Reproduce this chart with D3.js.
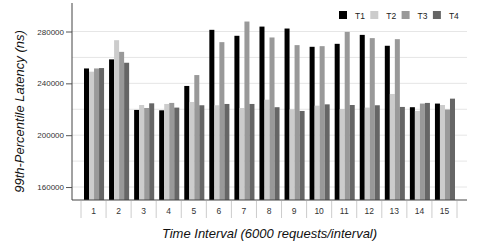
<!DOCTYPE html>
<html>
<head>
<meta charset="utf-8">
<script src="https://cdn.jsdelivr.net/npm/d3@7"></script>
<style>
  body { margin: 0; background: #fff; }
  svg { display: block; font-family: "Liberation Sans", Arial, sans-serif; }
</style>
</head>
<body>
<div id="chart"></div>
<script>
// 99th-percentile latency per interval, four series
const intervals = [1, 2, 3, 4, 5, 6, 7, 8, 9, 10, 11, 12, 13, 14, 15];
const seriesNames = ['T1', 'T2', 'T3', 'T4'];
const t1 = [251500, 258500, 219500, 219200, 238000, 281300, 276700, 283800, 282300, 268200, 270500, 277400, 269000, 221600, 224400];
const t2 = [249000, 273300, 223300, 224100, 225600, 223100, 221000, 227400, 220000, 222800, 220200, 221300, 231800, 218700, 223300];
const t3 = [251500, 264300, 221000, 224900, 246400, 271800, 287700, 275400, 269500, 268700, 279700, 274900, 274100, 224400, 219800];
const t4 = [251800, 255900, 224600, 221300, 223100, 224100, 224100, 221600, 218700, 223800, 223300, 223100, 221800, 224900, 228200];
const yTicks = [160000, 200000, 240000, 280000];
const yGrid = [160000, 180000, 200000, 220000, 240000, 260000, 280000];
const colors = ['#000000', '#cccccc', '#999999', '#666666'];

const width = 485, height = 242;
const plot = { left: 72, right: 467, top: 3, bottom: 200 };

const svg = d3.select('#chart').append('svg')
    .attr('width', width)
    .attr('height', height);

const y = d3.scaleLinear()
    .domain([150000, 302000])
    .range([plot.bottom, plot.top]);

const x0 = d3.scaleBand()
    .domain(intervals)
    .range([81, 457])
    .padding(0);

const bw = x0.bandwidth();
const x1 = d3.scaleBand()
    .domain(seriesNames)
    .range([bw * 0.12, bw * 0.92])
    .padding(0);

// gridlines
svg.append('g')
    .selectAll('line')
    .data(yGrid)
    .enter()
    .append('line')
    .attr('x1', plot.left)
    .attr('x2', plot.right)
    .attr('y1', d => y(d))
    .attr('y2', d => y(d))
    .attr('stroke', '#e6e6e6')
    .attr('stroke-width', 1);

// bars
const table = intervals.map((iv, i) => ({ iv, vals: [t1[i], t2[i], t3[i], t4[i]] }));
const groups = svg.append('g')
    .selectAll('g')
    .data(table)
    .enter()
    .append('g')
    .attr('transform', d => `translate(${x0(d.iv)},0)`);

groups.selectAll('rect')
    .data(d => d.vals.map((v, j) => ({ name: seriesNames[j], v, j })))
    .enter()
    .append('rect')
    .attr('x', d => x1(d.name))
    .attr('width', x1.bandwidth())
    .attr('y', d => y(d.v))
    .attr('height', d => plot.bottom - y(d.v))
    .attr('fill', d => colors[d.j]);

// y axis
const yAxis = svg.append('g')
    .attr('transform', `translate(${plot.left},0)`)
    .call(d3.axisLeft(y).tickValues(yTicks).tickSize(6).tickPadding(2).tickFormat(d3.format('d')));
yAxis.select('.domain').remove();
yAxis.selectAll('.tick line').attr('stroke', '#555');
yAxis.selectAll('.tick text')
    .style('font-size', '8px')
    .style('fill', '#333')
    .style('font-family', '"Liberation Sans", Arial, sans-serif');

svg.append('line')
    .attr('x1', plot.left).attr('x2', plot.left)
    .attr('y1', plot.top).attr('y2', plot.bottom)
    .attr('stroke', '#444');

// x axis line
svg.append('line')
    .attr('x1', plot.left).attr('x2', plot.right)
    .attr('y1', plot.bottom).attr('y2', plot.bottom)
    .attr('stroke', '#444');

// category separators
const seps = intervals.map(iv => x0(iv)).concat([x0(intervals[intervals.length - 1]) + bw]);
svg.append('g')
    .selectAll('line')
    .data(seps)
    .enter()
    .append('line')
    .attr('x1', d => d).attr('x2', d => d)
    .attr('y1', plot.bottom + 1).attr('y2', plot.bottom + 18)
    .attr('stroke', '#cccccc');

svg.append('g')
    .selectAll('text')
    .data(intervals)
    .enter()
    .append('text')
    .attr('x', d => x0(d) + bw / 2)
    .attr('y', 214)
    .attr('text-anchor', 'middle')
    .style('font-size', '8.5px')
    .style('fill', '#333')
    .text(d => d);

// axis titles
svg.append('text')
    .attr('transform', `translate(24,${(plot.top + plot.bottom) / 2 + 10}) rotate(-90)`)
    .attr('text-anchor', 'middle')
    .style('font-size', '13px')
    .style('font-style', 'italic')
    .style('fill', '#111')
    .text('99th-Percentile Latency (ns)');

svg.append('text')
    .attr('x', (plot.left + plot.right) / 2)
    .attr('y', 238)
    .attr('text-anchor', 'middle')
    .style('font-size', '13px')
    .style('font-style', 'italic')
    .style('fill', '#111')
    .text('Time Interval (6000 requests/interval)');

// legend
const legend = svg.append('g')
    .attr('transform', 'translate(339,11)');
seriesNames.forEach((name, i) => {
    const row = legend.append('g').attr('transform', `translate(${i * 31.3},0)`);
    row.append('rect')
        .attr('width', 8)
        .attr('height', 8)
        .attr('fill', colors[i]);
    row.append('text')
        .attr('x', 16)
        .attr('y', 7.5)
        .style('font-size', '8.5px')
        .style('fill', '#222')
        .text(name);
});
</script>
</body>
</html>
